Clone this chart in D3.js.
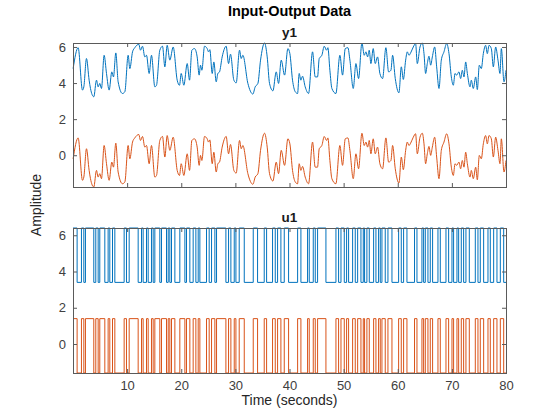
<!DOCTYPE html>
<html><head><meta charset="utf-8">
<script src="https://cdn.jsdelivr.net/npm/d3@7"></script>
<style>
body{margin:0;background:#fff}
text{font-family:"Liberation Sans",Arial,Helvetica,sans-serif}
</style></head>
<body><svg id="c" width="560" height="420"></svg>
<script>
// ---- data ----
const yTime = [0.02,0.95,1.75,2.0,2.49,2.98,3.23,3.84,4.34,4.65,4.95,5.26,5.75,6.19,6.68,7.17,7.48,7.91,8.34,9.14,9.58,10.19,10.5,11.0,11.42,12.16,12.47,12.84,13.27,13.58,14.07,14.5,15.12,15.43,16.04,16.54,16.97,17.4,17.89,18.51,19.25,
19.68,19.99,20.48,21.1,21.53,21.96,22.45,22.94,23.31,23.56,23.81,24.3,24.79,25.04,25.28,25.72,26.02,26.46,26.76,27.07,27.56,28.3,28.74,29.1,29.72,30.15,30.77,31.08,31.38,32.31,33.23,33.66,34.16,34.65,35.39,35.88,36.31,36.93,37.55,37.98,38.47,39.09,39.7,
40.07,40.56,41.06,41.49,41.79,42.1,42.41,42.9,43.52,44.26,44.75,45.18,45.49,45.98,46.42,46.85,47.09,47.46,47.83,48.57,49.31,49.8,50.3,50.79,51.16,51.78,52.27,52.76,53.38,53.81,54.12,54.43,54.73,55.04,55.47,55.84,56.27,56.7,57.2,57.81,58.31,58.74,59.05,59.54,
60.22,60.66,61.03,61.46,61.76,62.07,62.38,62.87,63.3,63.61,64.11,64.54,64.85,65.15,65.46,65.77,66.08,66.39,66.82,67.19,67.62,68.05,68.54,69.04,69.47,69.9,70.27,70.58,70.88,71.31,71.62,71.93,72.24,72.55,72.86,73.35,73.59,73.96,74.4,74.7,75.07,75.44,75.81,76.24,76.55,76.86,77.29,77.66,78.09,78.52,78.89,79.14,79.63,80.0];

const y1Blue = [4.80,5.96,3.61,3.79,5.36,4.16,3.70,3.24,4.16,3.79,3.98,3.70,5.54,4.53,3.61,4.62,4.34,5.67,4.07,3.42,3.52,5.54,4.80,5.73,5.96,6.15,5.82,6.04,5.45,5.54,4.53,5.54,3.79,3.88,5.82,6.04,4.90,6.09,5.27,6.00,4.16,
3.88,4.53,3.88,5.08,4.16,5.82,5.91,5.45,4.44,4.99,4.71,6.04,5.91,5.73,5.85,4.53,5.17,4.07,4.53,4.62,5.45,6.04,5.08,5.60,4.16,4.01,5.82,5.36,5.54,3.98,3.39,3.79,3.98,5.27,6.22,5.45,3.98,3.57,4.62,3.98,5.27,4.44,5.91,
5.63,4.16,3.52,3.42,4.53,4.16,4.38,3.79,3.42,5.73,4.34,4.34,5.36,5.54,6.04,5.82,5.96,4.71,3.70,3.42,5.54,4.44,5.91,5.96,5.27,3.70,5.08,4.25,6.22,5.54,5.73,5.45,5.82,5.08,5.91,5.08,5.45,4.53,4.25,5.96,4.62,4.71,5.54,4.25,
3.46,4.90,4.20,5.27,5.73,5.54,5.67,6.00,6.19,5.08,6.00,6.22,5.63,4.53,5.08,5.49,4.99,5.45,6.00,4.90,3.70,5.27,5.73,6.19,5.63,4.34,3.88,4.53,4.44,4.62,4.25,4.71,4.34,5.17,4.53,3.79,4.16,3.70,4.34,3.64,4.99,4.80,5.63,6.09,5.63,6.09,5.91,4.90,6.00,5.27,4.53,5.91,4.07,4.71];

const y1Orange = [-0.20,0.96,-1.39,-1.21,0.36,-0.84,-1.30,-1.76,-0.84,-1.21,-1.02,-1.30,0.54,-0.47,-1.39,-0.38,-0.66,0.67,-0.93,-1.58,-1.48,0.54,-0.20,0.73,0.96,1.15,0.82,1.04,0.45,0.54,-0.47,0.54,-1.21,-1.12,0.82,1.04,-0.10,1.09,0.27,1.00,-0.84,
-1.12,-0.47,-1.12,0.08,-0.84,0.82,0.91,0.45,-0.56,-0.01,-0.29,1.04,0.91,0.73,0.85,-0.47,0.17,-0.93,-0.47,-0.38,0.45,1.04,0.08,0.60,-0.84,-0.99,0.82,0.36,0.54,-1.02,-1.61,-1.21,-1.02,0.27,1.22,0.45,-1.02,-1.43,-0.38,-1.02,0.27,-0.56,0.91,
0.63,-0.84,-1.48,-1.58,-0.47,-0.84,-0.62,-1.21,-1.58,0.73,-0.66,-0.66,0.36,0.54,1.04,0.82,0.96,-0.29,-1.30,-1.58,0.54,-0.56,0.91,0.96,0.27,-1.30,0.08,-0.75,1.22,0.54,0.73,0.45,0.82,0.08,0.91,0.08,0.45,-0.47,-0.75,0.96,-0.38,-0.29,0.54,-0.75,
-1.54,-0.10,-0.80,0.27,0.73,0.54,0.67,1.00,1.19,0.08,1.00,1.22,0.63,-0.47,0.08,0.49,-0.01,0.45,1.00,-0.10,-1.30,0.27,0.73,1.19,0.63,-0.66,-1.12,-0.47,-0.56,-0.38,-0.75,-0.29,-0.66,0.17,-0.47,-1.21,-0.84,-1.30,-0.66,-1.36,-0.01,-0.20,0.63,1.09,0.63,1.09,0.91,-0.10,1.00,0.27,-0.47,0.91,-0.93,-0.29];

const uTime = [0,
0.76,1.56,2.0,2.3,3.84,4.21,4.65,4.95,5.88,6.49,6.8,7.3,7.73,9.45,9.88,10.38,12.04,12.66,12.96,13.58,13.89,14.5,14.81,15.12,16.04,16.35,17.28,17.59,17.89,18.2,18.82,19.74,20.67,20.97,21.59,22.2,22.7,23.13,23.44,24.67,25.16,25.6,26.21,26.52,
28.25,28.74,29.17,29.79,30.1,30.71,31.64,33.3,34.1,35.33,35.77,36.87,37.37,37.8,38.41,39.03,39.83,41.5,42.11,43.34,43.65,44.39,44.76,45.19,46.73,48.58,49.07,49.51,50.12,50.55,50.92,51.66,52.15,52.59,53.2,53.63,
53.87,54.3,54.74,55.54,55.97,56.46,56.77,57.08,57.69,58.19,58.93,60.16,60.65,61.08,61.7,63.1,63.55,64.47,64.78,65.09,65.58,66.01,66.44,67.43,67.86,68.91,69.4,70.02,70.32,70.94,71.25,71.74,72.17,72.6,73.22,74.33,74.82,75.25,75.87,76.67,77.1,77.72,78.33,78.95,79.57,
80];
const uBits = [1,
0,1,0,1,0,1,0,1,0,1,0,1,0,1,0,1,0,1,0,1,0,1,0,1,0,1,0,1,0,1,0,1,0,1,0,1,0,1,0,1,0,1,0,1,
0,1,0,1,0,1,0,1,0,1,0,1,0,1,0,1,0,1,0,1,0,1,0,1,0,1,0,1,0,1,0,1,0,1,0,1,
0,1,0,1,0,1,0,1,0,1,0,1,0,1,0,1,0,1,0,1,0,1,0,1,0,1,0,1,0,1,0,1,0,1,0,1,0,1,0,1,0,1,0,1,0,
0];
const uBlueLevels = [3.4, 6.4];
const uOrangeLevels = [-1.6, 1.4];

const xTicks = [10,20,30,40,50,60,70,80];
const yTicks = [0,2,4,6];
const BLUE = "#0072BD", ORANGE = "#D95319";

// ---- drawing ----
const svg = d3.select("#c");
const L = 73, R = 506;
const x = d3.scaleLinear().domain([0,80]).range([L,R]);

function panel(top, bottom, title, series, curve, showX){
  const all = series.flatMap(s => s.values);
  const y = d3.scaleLinear().domain(d3.extent(all)).range([bottom, top]);
  const g = svg.append("g");
  const line = d3.line().x(d=>x(d[0])).y(d=>y(d[1])).curve(curve);
  series.forEach(s=>{
    g.append("path").datum(s.times.map((t,i)=>[t,s.values[i]]))
      .attr("d", line).attr("fill","none").attr("stroke", s.color).attr("stroke-width",1);
  });
  const axCol = "#5a5a5a";
  const styleAxis = sel => {
    sel.select(".domain").remove();
    sel.selectAll(".tick line").attr("stroke", axCol);
    sel.selectAll(".tick text").attr("fill","#404040").style("font-size","13px")
      .style("font-family",'"Liberation Sans",Arial,sans-serif');
  };
  g.append("g").attr("transform",`translate(${L},0)`)
    .call(d3.axisLeft(y).tickValues(yTicks).tickSize(-4).tickPadding(7).tickFormat(d3.format("d"))).call(styleAxis);
  g.append("g").attr("transform",`translate(${R},0)`)
    .call(d3.axisRight(y).tickValues(yTicks).tickSize(-4).tickFormat("")).call(styleAxis);
  g.append("g").attr("transform",`translate(0,${bottom})`)
    .call(d3.axisBottom(x).tickValues(xTicks).tickSize(-4).tickPadding(8).tickFormat(showX ? d3.format("d") : "")).call(styleAxis);
  g.append("g").attr("transform",`translate(0,${top})`)
    .call(d3.axisTop(x).tickValues(xTicks).tickSize(-4).tickFormat("")).call(styleAxis);
  g.append("rect").attr("x",L+0.5).attr("y",top+0.5).attr("width",R-L).attr("height",bottom-top)
    .attr("fill","none").attr("stroke",axCol).attr("stroke-width",1);
  svg.append("text").attr("x",(L+R)/2).attr("y",top-6).attr("text-anchor","middle")
    .style("font-size","13.5px").style("font-weight","bold").attr("fill","#1a1a1a").text(title);
}

panel(43, 187, "y1", [
  {times: yTime, values: y1Blue, color: BLUE},
  {times: yTime, values: y1Orange, color: ORANGE}
], d3.curveMonotoneX, false);

panel(228, 373, "u1", [
  {times: uTime, values: uBits.map(b=>uBlueLevels[b]), color: BLUE},
  {times: uTime, values: uBits.map(b=>uOrangeLevels[b]), color: ORANGE}
], d3.curveStepAfter, true);

svg.append("text").attr("x",(L+R)/2).attr("y",405).attr("text-anchor","middle")
  .style("font-size","14px").attr("fill","#262626").text("Time (seconds)");
svg.append("text").attr("x",(L+R)/2).attr("y",16).attr("text-anchor","middle")
  .style("font-size","14.5px").style("font-weight","bold").attr("fill","#000").text("Input-Output Data");
svg.append("text").attr("transform","translate(41,205) rotate(-90)").attr("text-anchor","middle")
  .style("font-size","14px").attr("fill","#262626").text("Amplitude");
</script>
</body></html>
